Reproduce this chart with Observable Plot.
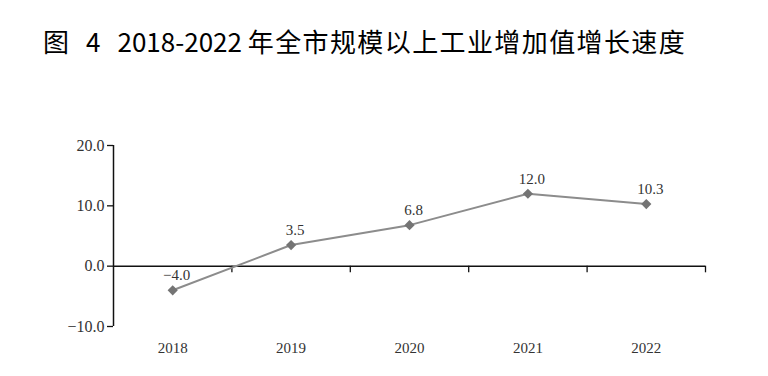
<!DOCTYPE html>
<html>
<head>
<meta charset="utf-8">
<script src="https://cdn.jsdelivr.net/npm/d3@7"></script>
<script src="https://cdn.jsdelivr.net/npm/@observablehq/plot@0.6"></script>
<style>
  html, body { margin: 0; padding: 0; background: #fff; }
  #wrap { position: relative; width: 768px; height: 376px; overflow: hidden; }
  #title { position: absolute; left: 43px; top: 28px; font-family: "Noto Sans CJK SC", "Noto Sans", sans-serif; font-size: 26px; font-weight: 400; line-height: 26px; color: #000; white-space: pre; }
  #title .gap { display: inline-block; width: 17px; }
  #title .cjk { letter-spacing: 1.4px; }
  #chart { position: absolute; left: 0; top: 0; }
</style>
</head>
<body>
<div id="wrap">
  <div id="chart"></div>
  <div id="title">图<span class="gap"></span>4<span class="gap"></span>2018-2022 <span class="cjk">年全市规模以上工业增加值增长速度</span></div>
</div>
<script>
const years = [2018, 2019, 2020, 2021, 2022];
const growth = [-4.0, 3.5, 6.8, 12.0, 10.3];
const yTicks = [-10, 0, 10, 20];
const boundaries = [2018.5, 2019.5, 2020.5, 2021.5, 2022.5];

const data = years.map((year, i) => ({year, value: growth[i]}));
const serif = "'Liberation Serif', 'DejaVu Serif', serif";

const chart = Plot.plot({
  width: 768,
  height: 376,
  marginLeft: 113,
  marginRight: 63,
  marginTop: 145,
  marginBottom: 50,
  style: {fontFamily: serif, fontSize: "15px", color: "#333", background: "transparent"},
  x: {type: "linear", domain: [2017.5, 2022.5]},
  y: {type: "linear", domain: [-10, 20]},
  marks: [
    Plot.axisY({ticks: yTicks, tickFormat: d3.format(".1f"), tickSize: 6, tickPadding: 3, label: null, stroke: "#111", strokeWidth: 1.3, fontSize: 16}),
    Plot.ruleX([2017.5], {x: d => d, y1: () => -10, y2: () => 20, stroke: "#111", strokeWidth: 1.5}),
    Plot.axisX({ticks: years, tickFormat: d => String(d), tickSize: 0, tickPadding: 16, label: null, fontSize: 15}),
    Plot.ruleY([0], {y: d => d, x1: () => 2017.5, x2: () => 2022.5, stroke: "#111", strokeWidth: 1.5}),
    Plot.ruleX(boundaries, {x: d => d, y1: () => 0, y2: () => -1.1, stroke: "#111", strokeWidth: 1.3}),
    Plot.line(data, {x: "year", y: "value", stroke: "#8c8c8c", strokeWidth: 2}),
    Plot.dot(data, {x: "year", y: "value", symbol: "diamond2", r: 4.6, fill: "#747474", stroke: "none"}),
    Plot.text(data, {x: "year", y: "value", text: d => d3.format(".1f")(d.value), dy: -15, dx: 4, fontSize: 15, fill: "#333"})
  ]
});
document.getElementById("chart").appendChild(chart);
</script>
</body>
</html>
